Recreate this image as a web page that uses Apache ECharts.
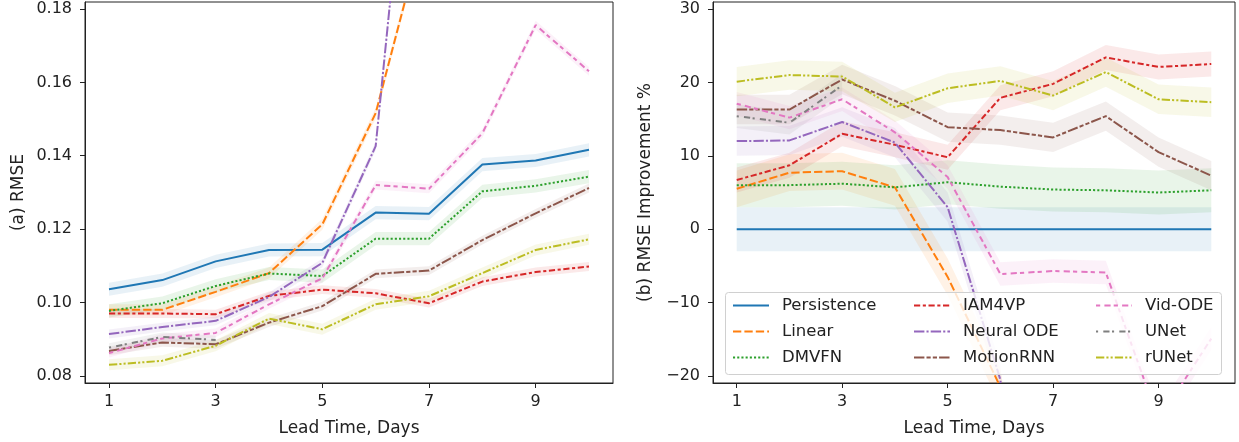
<!DOCTYPE html>
<html>
<head>
<meta charset="utf-8">
<script src="https://cdn.jsdelivr.net/npm/echarts@6/dist/echarts.min.js"></script>
<style>
  html, body { margin: 0; padding: 0; background: #fff; }
  #chartmain { width: 1239px; height: 442px; }
</style>
</head>
<body>
<div id="chartmain"></div>
<script>
// lead times and model names
var days = [1, 2, 3, 4, 5, 6, 7, 8, 9, 10];
var models = ['Persistence', 'Linear', 'DMVFN', 'IAM4VP', 'Neural ODE', 'MotionRNN', 'Vid-ODE', 'UNet', 'rUNet'];
var colors = ['#1f77b4', '#ff7f0e', '#2ca02c', '#d62728', '#9467bd', '#8c564b', '#e377c2', '#7f7f7f', '#bcbd22'];

// (a) RMSE
var rmsePersistence = [0.1036, 0.1061, 0.1112, 0.1143, 0.1144, 0.1245, 0.1242, 0.1376, 0.1387, 0.1416];
var rmseLinear      = [0.0980, 0.0980, 0.1029, 0.1080, 0.1213, 0.1516, 0.207, 0.24, 0.27, 0.30];
var rmseDMVFN       = [0.0977, 0.0998, 0.1045, 0.1079, 0.1072, 0.1174, 0.1174, 0.1303, 0.1318, 0.1343];
var rmseIAM4VP      = [0.0970, 0.0970, 0.0968, 0.1018, 0.1035, 0.1025, 0.0998, 0.1057, 0.1083, 0.1098];
var rmseNeuralODE   = [0.0914, 0.0933, 0.0950, 0.1015, 0.1108, 0.1426, 0.288, 0.32, 0.34, 0.36];
var rmseMotionRNN   = [0.0868, 0.0891, 0.0886, 0.0945, 0.0990, 0.1078, 0.1087, 0.1170, 0.1243, 0.1312];
var rmseVidODE      = [0.0862, 0.0902, 0.0917, 0.0995, 0.1066, 0.1320, 0.1310, 0.1461, 0.1756, 0.1630];
var rmseUNet        = [0.0877, 0.0906, 0.0898, null, null, null, null, null, null, null];
var rmseRUNet       = [0.0830, 0.0841, 0.0882, 0.0956, 0.0927, 0.0995, 0.1017, 0.1080, 0.1143, 0.1172];
var rmseBand = [0.0018, 0.0015, 0.0018, 0.0012, 0.0012, 0.0012, 0.0012, 0.0012, 0.0015];
var rmseTicks = [0.08, 0.10, 0.12, 0.14, 0.16, 0.18];

// (b) RMSE improvement %
var impPersistence = [0, 0, 0, 0, 0, 0, 0, 0, 0, 0];
var impLinear      = [5.5, 7.7, 7.9, 5.7, -6.5, -21.5, -65, -80, -95, -110];
var impDMVFN       = [6.0, 6.0, 6.2, 5.7, 6.4, 5.8, 5.4, 5.3, 5.0, 5.3];
var impIAM4VP      = [6.7, 8.7, 13.0, 11.5, 9.8, 17.9, 19.8, 23.4, 22.1, 22.5];
var impNeuralODE   = [12.0, 12.1, 14.6, 11.8, 3.0, -20.5, -95, -110, -120, -140];
var impMotionRNN   = [16.3, 16.3, 20.4, 17.5, 13.9, 13.5, 12.5, 15.4, 10.5, 7.3];
var impVidODE      = [17.1, 15.2, 17.7, 13.2, 7.1, -6.1, -5.7, -5.9, -26, -14.9];
var impUNet        = [15.4, 14.5, 19.6, null, null, null, null, null, null, null];
var impRUNet       = [20.1, 21.0, 20.8, 16.6, 19.2, 20.2, 18.2, 21.4, 17.7, 17.3];
var impBand = [3.0, 2.5, 3.0, 1.7, 2.0, 2.0, 1.6, 1.6, 2.0];
var impTicks = [-20, -10, 0, 10, 20, 30];

var xTicks = [1, 3, 5, 7, 9];

var rmseData = [rmsePersistence, rmseLinear, rmseDMVFN, rmseIAM4VP, rmseNeuralODE, rmseMotionRNN, rmseVidODE, rmseUNet, rmseRUNet];
var impData = [impPersistence, impLinear, impDMVFN, impIAM4VP, impNeuralODE, impMotionRNN, impVidODE, impUNet, impRUNet];

// seaborn style dash patterns, scaled to pixels
var dashes = ['solid', [8.3, 3.1], [2.1, 2.1], [6.2, 2.6, 3.1, 2.6], [10.4, 2.1, 2.1, 2.1],
  [10.4, 2.1, 4.2, 2.1, 4.2, 2.1], [4.2, 4.2, 6.2, 3.1], [2.1, 5.2, 6.2, 2.5], [8.3, 2.1, 2.1, 2.1, 2.1, 2.1]];

var font = 'DejaVu Sans';

function hexA(hex, a) {
  var r = parseInt(hex.substr(1, 2), 16), g = parseInt(hex.substr(3, 2), 16), b = parseInt(hex.substr(5, 2), 16);
  return 'rgba(' + r + ',' + g + ',' + b + ',' + a + ')';
}

function minus(v) { return String(v).replace('-', '\u2212'); }

// shaded band drawn as one polygon per model
function bandSeries(vals, hw, color, axisIdx) {
  var pts = [];
  for (var k = 0; k < days.length; k++) {
    if (vals[k] !== null) pts.push([days[k], vals[k] - hw, vals[k] + hw]);
  }
  return {
    type: 'custom', xAxisIndex: axisIdx, yAxisIndex: axisIdx, data: pts,
    silent: true, clip: true, z: 1,
    encode: { x: 0, y: [1, 2] },
    renderItem: function (params, api) {
      if (params.dataIndex !== 0) return;
      var up = [], lo = [];
      for (var i = 0; i < pts.length; i++) {
        up.push(api.coord([pts[i][0], pts[i][2]]));
        lo.unshift(api.coord([pts[i][0], pts[i][1]]));
      }
      var cs = params.coordSys;
      return {
        type: 'polygon',
        shape: { points: up.concat(lo) },
        style: { fill: hexA(color, 0.1) },
        clipPath: { type: 'rect', shape: { x: cs.x, y: cs.y, width: cs.width, height: cs.height } }
      };
    }
  };
}

var series = [];
function addPanel(dataList, band, axisIdx) {
  for (var i = 0; i < models.length; i++) {
    series.push(bandSeries(dataList[i], band[i], colors[i], axisIdx));
  }
  for (var j = 0; j < models.length; j++) {
    var pts = [];
    for (var m = 0; m < days.length; m++) pts.push([days[m], dataList[j][m]]);
    series.push({
      type: 'line', name: models[j], xAxisIndex: axisIdx, yAxisIndex: axisIdx,
      data: pts, symbol: 'none', showSymbol: false, connectNulls: false,
      color: colors[j],
      lineStyle: { color: colors[j], width: 2, type: dashes[j], cap: 'butt' }, z: 3
    });
  }
}
addPanel(rmseData, rmseBand, 0);
addPanel(impData, impBand, 1);

var grids = [
  { left: 85, right: 626, top: 2, bottom: 59, show: true, borderColor: '#222', borderWidth: 1, containLabel: false },
  { left: 713, right: 4, top: 2, bottom: 59, show: true, borderColor: '#222', borderWidth: 1, containLabel: false }
];

function xAxis(idx) {
  return {
    type: 'value', gridIndex: idx, min: 0.55, max: 10.45,
    name: 'Lead Time, Days', nameLocation: 'middle', nameGap: 37,
    nameTextStyle: { fontFamily: font, fontSize: 17, color: '#222' },
    axisLine: { show: true, onZero: false, lineStyle: { color: '#222', width: 1 } },
    axisTick: { show: true, length: 5, customValues: xTicks, lineStyle: { color: '#222' } },
    axisLabel: { customValues: xTicks, fontFamily: font, fontSize: 16, color: '#222', margin: 11 },
    splitLine: { show: false }
  };
}
function yAxis(idx, min, max, ticks, name, gap, fmt) {
  return {
    type: 'value', gridIndex: idx, min: min, max: max,
    name: name, nameLocation: 'middle', nameGap: gap, nameRotate: 90,
    nameTextStyle: { fontFamily: font, fontSize: 17, color: '#222' },
    axisLine: { show: true, onZero: false, lineStyle: { color: '#222', width: 1 } },
    axisTick: { show: true, length: 5, customValues: ticks, lineStyle: { color: '#222' } },
    axisLabel: { customValues: ticks, fontFamily: font, fontSize: 16, color: '#222', margin: 13, formatter: fmt },
    splitLine: { show: false }
  };
}

var legendCols = [models.slice(0, 3), models.slice(3, 6), models.slice(6, 9)];
var legendLefts = [732, 913, 1095];
var legends = legendCols.map(function (col, c) {
  return {
    data: col, orient: 'vertical', left: legendLefts[c], top: 297, padding: 0,
    itemWidth: 36, itemHeight: 14, itemGap: 9, selectedMode: false,
    itemStyle: { opacity: 0, borderWidth: 0 },
    textStyle: { fontFamily: font, fontSize: 16.5, color: '#222', lineHeight: 14, padding: [0, 0, 0, 8] },
    z: 10
  };
});

var myChart = echarts.init(document.getElementById('chartmain'));
var option = {
  animation: false,
  backgroundColor: '#fff',
  grid: grids,
  xAxis: [xAxis(0), xAxis(1)],
  yAxis: [
    yAxis(0, 0.07805, 0.1819, rmseTicks, '(a) RMSE', 58, function (v) { return v.toFixed(2); }),
    yAxis(1, -20.95, 30.95, impTicks, '(b) RMSE Improvement %', 59, function (v) { return minus(v); })
  ],
  legend: legends,
  graphic: [{
    type: 'rect', z: 9, silent: true,
    shape: { x: 725.5, y: 292.5, width: 496, height: 82, r: 3 },
    style: { fill: 'rgba(255,255,255,0.8)', stroke: '#d0d0d0', lineWidth: 1 }
  }],
  series: series
};
myChart.setOption(option);
</script>
</body>
</html>
